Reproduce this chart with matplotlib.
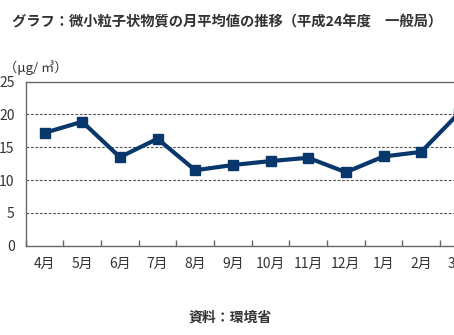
import matplotlib.pyplot as plt
import numpy as np

plt.rcParams['font.family'] = ['Noto Sans CJK JP', 'DejaVu Sans']

months = ['4月', '5月', '6月', '7月', '8月', '9月', '10月', '11月', '12月', '1月', '2月', '3月']
pm25 = [17.2, 18.9, 13.5, 16.3, 11.5, 12.3, 12.9, 13.4, 11.2, 13.6, 14.3, 20.2]
yticks = [0, 5, 10, 15, 20, 25]

line_color = '#07376b'
axis_color = '#666666'
text_color = '#333333'

fig = plt.figure(figsize=(4.54, 3.35), dpi=100)
# axes runs past the right edge, like the original (3月 is cut off)
ax = fig.add_axes([25.7 / 454, 1 - 245.7 / 335, 452 / 454, 164 / 335])

x = np.arange(len(months))
ax.plot(x, pm25, color=line_color, linewidth=3, marker='s', markersize=7, zorder=3)

ax.set_xlim(-0.5, len(months) - 0.5)
ax.set_ylim(0, 25)
ax.set_yticks(yticks)
for v in yticks[1:-1]:
    ax.axhline(v, color='#555555', linestyle=(0, (2.5, 1.5)), linewidth=0.8, zorder=1)

ax.set_xticks(x)
ax.set_xticklabels(months)
ax.set_xticks(np.arange(len(months) + 1) - 0.5, minor=True)
ax.tick_params(axis='x', which='major', length=0, pad=8, labelsize=10, labelcolor=text_color)
ax.tick_params(axis='x', which='minor', direction='in', length=4, color=axis_color, width=1)
ax.tick_params(axis='y', length=0, pad=8, labelsize=10, labelcolor=text_color)

for side in ['left', 'bottom', 'top']:
    ax.spines[side].set_color(axis_color)
    ax.spines[side].set_linewidth(1)
ax.spines['right'].set_visible(False)

fig.text(12 / 454, 1 - 22 / 335, 'グラフ：微小粒子状物質の月平均値の推移（平成24年度　一般局）',
         fontsize=10.3, fontweight='bold', color=text_color, va='center', ha='left')
fig.text(4 / 454, 1 - 68 / 335, '（μg/ ㎥）', fontsize=9.5, color=text_color, va='center', ha='left')
fig.text(230 / 454, 1 - 318 / 335, '資料：環境省', fontsize=10, fontweight='bold',
         color=text_color, va='center', ha='center')

fig.savefig('out.png', dpi=100)
